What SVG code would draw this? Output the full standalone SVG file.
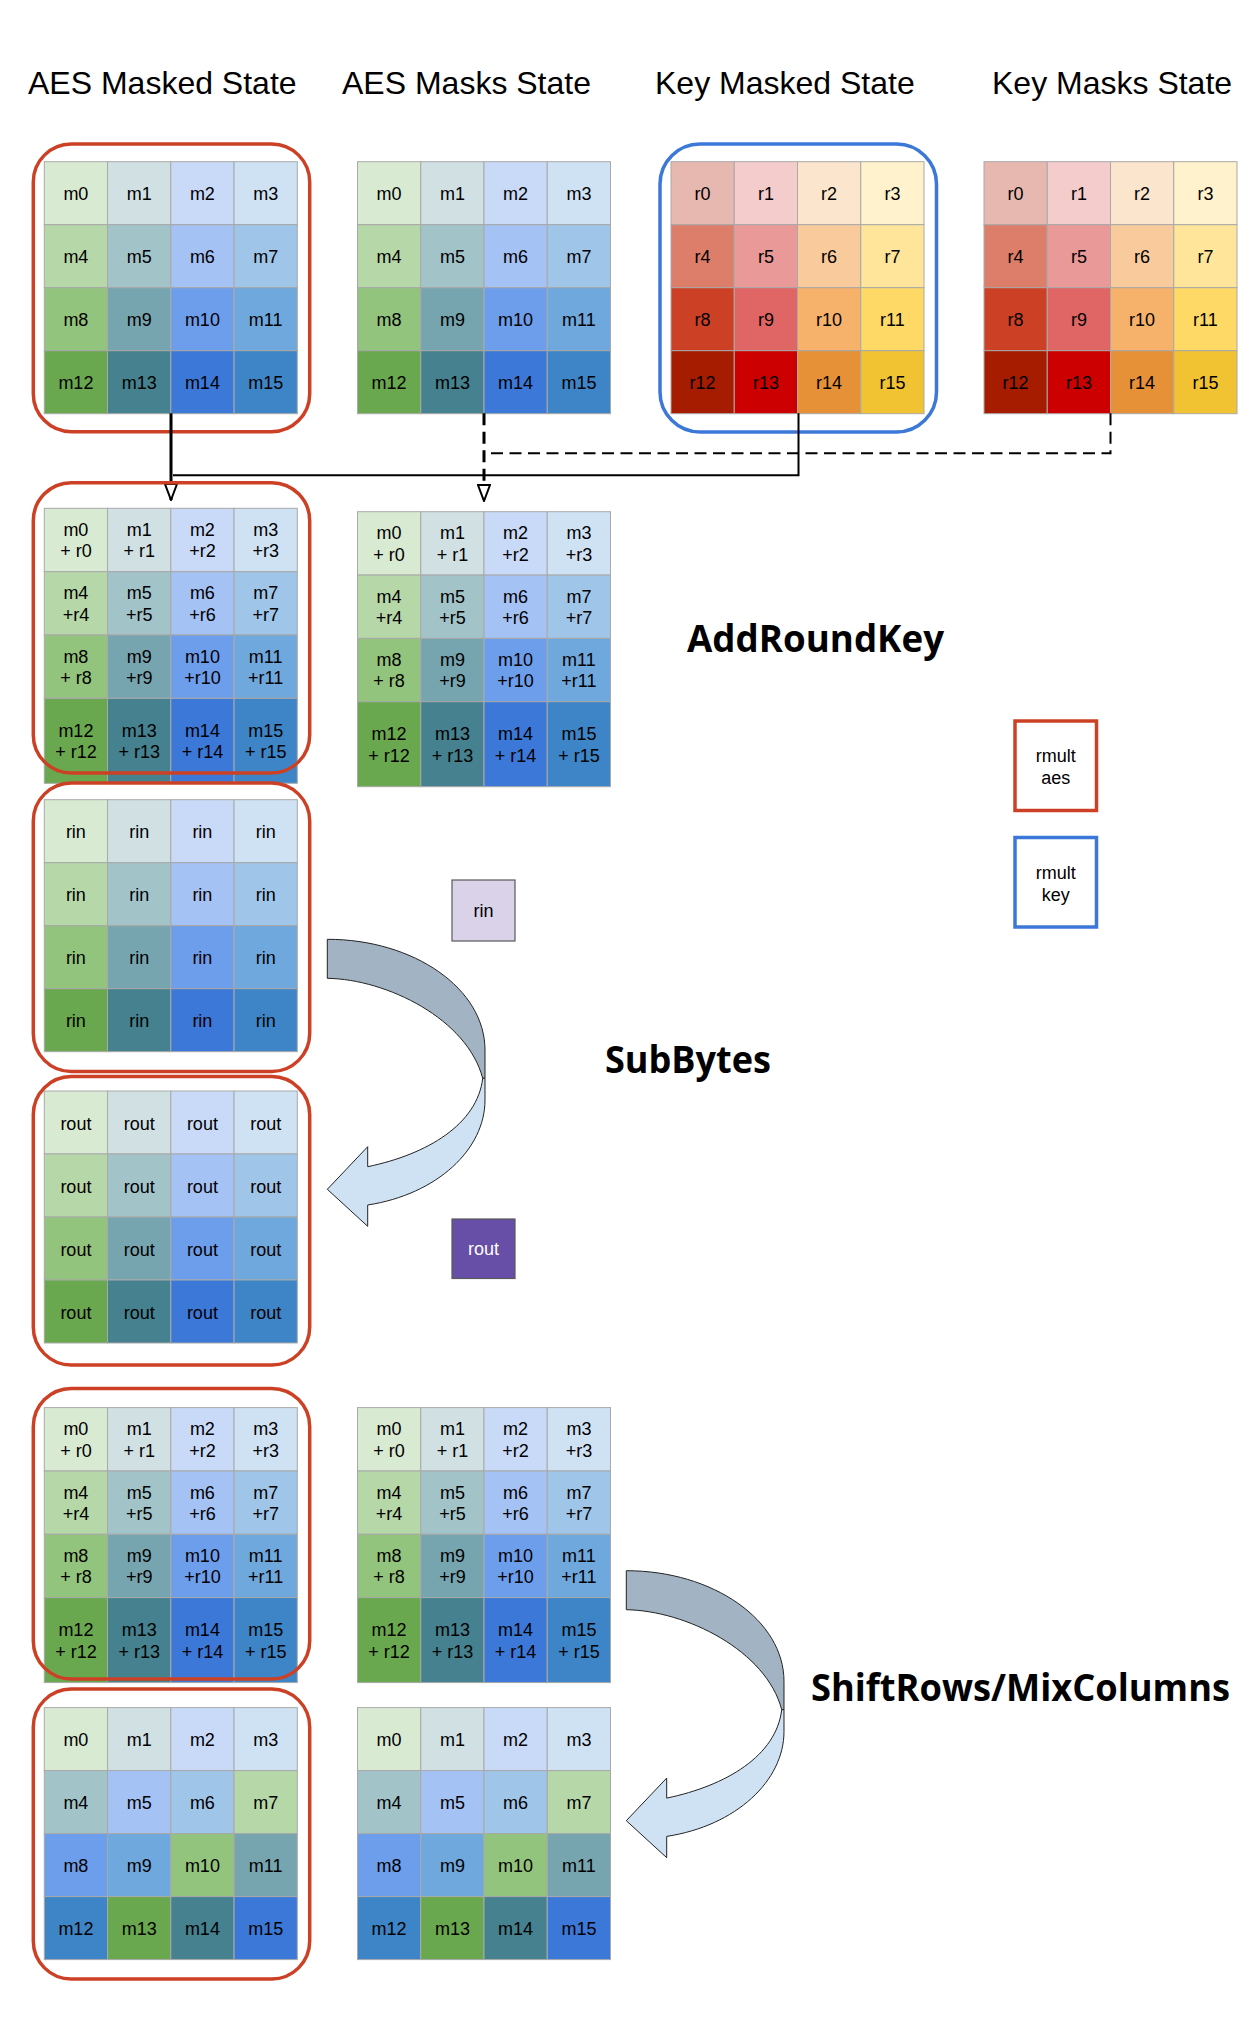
<svg xmlns="http://www.w3.org/2000/svg" width="1247" height="2030" viewBox="0 0 1247 2030">
<defs>
<style>
.a0{fill:#d9ead3}.a1{fill:#d0e0e3}.a2{fill:#c9daf8}.a3{fill:#cfe2f3}
.a4{fill:#b6d7a8}.a5{fill:#a2c4c9}.a6{fill:#a4c2f4}.a7{fill:#9fc5e8}
.a8{fill:#93c47d}.a9{fill:#76a5af}.a10{fill:#6d9eeb}.a11{fill:#6fa8dc}
.a12{fill:#6aa84f}.a13{fill:#45818e}.a14{fill:#3c78d8}.a15{fill:#3d85c6}
.k0{fill:#e6b8af}.k1{fill:#f4cccc}.k2{fill:#fce5cd}.k3{fill:#fff2cc}
.k4{fill:#dd7e6b}.k5{fill:#ea9999}.k6{fill:#f9cb9c}.k7{fill:#ffe599}
.k8{fill:#cc4125}.k9{fill:#e06666}.k10{fill:#f6b26b}.k11{fill:#ffd966}
.k12{fill:#a61c00}.k13{fill:#cc0000}.k14{fill:#e69138}.k15{fill:#f1c232}
.grid rect{stroke:#a9a9a9;stroke-width:1}
.grid text,.box text{font-family:"Liberation Sans",Arial,sans-serif;font-size:18px;text-anchor:middle;fill:#000}
.title{font-family:"Liberation Sans",Arial,sans-serif;font-size:32px;fill:#000}
.op{font-family:"Open Sans","DejaVu Sans",sans-serif;font-weight:700;font-size:37px;fill:#000}
.redbox{fill:none;stroke:#cc4125;stroke-width:3.5}
.bluebox{fill:none;stroke:#3c78d8;stroke-width:3.5}
.legend text{font-family:"Liberation Sans",Arial,sans-serif;font-size:18px;text-anchor:middle;fill:#000}
.conn{fill:none;stroke:#000}
.dash{stroke-dasharray:12 6.5}
.dark{fill:#a2b3c3;stroke:#222;stroke-width:1}
.light{fill:#cfe2f3;stroke:#222;stroke-width:1}
</style>
<marker id="open" viewBox="0 0 18 14" refX="17" refY="7" markerWidth="18" markerHeight="14" markerUnits="userSpaceOnUse" orient="auto">
<path d="M1,1 L17,7 L1,13 Z" fill="#fff" stroke="#000" stroke-width="2" stroke-dasharray="none"/>
</marker>
</defs>
<rect width="1247" height="2030" fill="#fff"/>

<g id="titles">
<text class="title" x="28" y="94">AES Masked State</text>
<text class="title" x="342" y="94">AES Masks State</text>
<text class="title" x="655" y="94">Key Masked State</text>
<text class="title" x="992" y="94">Key Masks State</text>
</g>

<g id="aes-masked-state" class="grid" transform="translate(44.3,161.7)">
<rect class="a0" x="0" y="0" width="63.25" height="63"/><rect class="a1" x="63.25" y="0" width="63.25" height="63"/><rect class="a2" x="126.5" y="0" width="63.25" height="63"/><rect class="a3" x="189.75" y="0" width="63.25" height="63"/>
<rect class="a4" x="0" y="63" width="63.25" height="63"/><rect class="a5" x="63.25" y="63" width="63.25" height="63"/><rect class="a6" x="126.5" y="63" width="63.25" height="63"/><rect class="a7" x="189.75" y="63" width="63.25" height="63"/>
<rect class="a8" x="0" y="126" width="63.25" height="63"/><rect class="a9" x="63.25" y="126" width="63.25" height="63"/><rect class="a10" x="126.5" y="126" width="63.25" height="63"/><rect class="a11" x="189.75" y="126" width="63.25" height="63"/>
<rect class="a12" x="0" y="189" width="63.25" height="63"/><rect class="a13" x="63.25" y="189" width="63.25" height="63"/><rect class="a14" x="126.5" y="189" width="63.25" height="63"/><rect class="a15" x="189.75" y="189" width="63.25" height="63"/>
<text x="31.6" y="38.5">m0</text><text x="94.9" y="38.5">m1</text><text x="158.1" y="38.5">m2</text><text x="221.4" y="38.5">m3</text>
<text x="31.6" y="101.5">m4</text><text x="94.9" y="101.5">m5</text><text x="158.1" y="101.5">m6</text><text x="221.4" y="101.5">m7</text>
<text x="31.6" y="164.5">m8</text><text x="94.9" y="164.5">m9</text><text x="158.1" y="164.5">m10</text><text x="221.4" y="164.5">m11</text>
<text x="31.6" y="227.5">m12</text><text x="94.9" y="227.5">m13</text><text x="158.1" y="227.5">m14</text><text x="221.4" y="227.5">m15</text>
</g>
<rect id="rmult-aes-box-1" class="redbox" x="33.3" y="144" width="276.4" height="287.7" rx="38"/>

<g id="aes-masks-state" class="grid" transform="translate(357.5,161.7)">
<rect class="a0" x="0" y="0" width="63.25" height="63"/><rect class="a1" x="63.25" y="0" width="63.25" height="63"/><rect class="a2" x="126.5" y="0" width="63.25" height="63"/><rect class="a3" x="189.75" y="0" width="63.25" height="63"/>
<rect class="a4" x="0" y="63" width="63.25" height="63"/><rect class="a5" x="63.25" y="63" width="63.25" height="63"/><rect class="a6" x="126.5" y="63" width="63.25" height="63"/><rect class="a7" x="189.75" y="63" width="63.25" height="63"/>
<rect class="a8" x="0" y="126" width="63.25" height="63"/><rect class="a9" x="63.25" y="126" width="63.25" height="63"/><rect class="a10" x="126.5" y="126" width="63.25" height="63"/><rect class="a11" x="189.75" y="126" width="63.25" height="63"/>
<rect class="a12" x="0" y="189" width="63.25" height="63"/><rect class="a13" x="63.25" y="189" width="63.25" height="63"/><rect class="a14" x="126.5" y="189" width="63.25" height="63"/><rect class="a15" x="189.75" y="189" width="63.25" height="63"/>
<text x="31.6" y="38.5">m0</text><text x="94.9" y="38.5">m1</text><text x="158.1" y="38.5">m2</text><text x="221.4" y="38.5">m3</text>
<text x="31.6" y="101.5">m4</text><text x="94.9" y="101.5">m5</text><text x="158.1" y="101.5">m6</text><text x="221.4" y="101.5">m7</text>
<text x="31.6" y="164.5">m8</text><text x="94.9" y="164.5">m9</text><text x="158.1" y="164.5">m10</text><text x="221.4" y="164.5">m11</text>
<text x="31.6" y="227.5">m12</text><text x="94.9" y="227.5">m13</text><text x="158.1" y="227.5">m14</text><text x="221.4" y="227.5">m15</text>
</g>

<g id="key-masked-state" class="grid" transform="translate(671,161.7)">
<rect class="k0" x="0" y="0" width="63.25" height="63"/><rect class="k1" x="63.25" y="0" width="63.25" height="63"/><rect class="k2" x="126.5" y="0" width="63.25" height="63"/><rect class="k3" x="189.75" y="0" width="63.25" height="63"/>
<rect class="k4" x="0" y="63" width="63.25" height="63"/><rect class="k5" x="63.25" y="63" width="63.25" height="63"/><rect class="k6" x="126.5" y="63" width="63.25" height="63"/><rect class="k7" x="189.75" y="63" width="63.25" height="63"/>
<rect class="k8" x="0" y="126" width="63.25" height="63"/><rect class="k9" x="63.25" y="126" width="63.25" height="63"/><rect class="k10" x="126.5" y="126" width="63.25" height="63"/><rect class="k11" x="189.75" y="126" width="63.25" height="63"/>
<rect class="k12" x="0" y="189" width="63.25" height="63"/><rect class="k13" x="63.25" y="189" width="63.25" height="63"/><rect class="k14" x="126.5" y="189" width="63.25" height="63"/><rect class="k15" x="189.75" y="189" width="63.25" height="63"/>
<text x="31.6" y="38.5">r0</text><text x="94.9" y="38.5">r1</text><text x="158.1" y="38.5">r2</text><text x="221.4" y="38.5">r3</text>
<text x="31.6" y="101.5">r4</text><text x="94.9" y="101.5">r5</text><text x="158.1" y="101.5">r6</text><text x="221.4" y="101.5">r7</text>
<text x="31.6" y="164.5">r8</text><text x="94.9" y="164.5">r9</text><text x="158.1" y="164.5">r10</text><text x="221.4" y="164.5">r11</text>
<text x="31.6" y="227.5">r12</text><text x="94.9" y="227.5">r13</text><text x="158.1" y="227.5">r14</text><text x="221.4" y="227.5">r15</text>
</g>
<rect id="rmult-key-box" class="bluebox" x="660" y="144" width="276.5" height="288" rx="40"/>

<g id="key-masks-state" class="grid" transform="translate(984,161.7)">
<rect class="k0" x="0" y="0" width="63.25" height="63"/><rect class="k1" x="63.25" y="0" width="63.25" height="63"/><rect class="k2" x="126.5" y="0" width="63.25" height="63"/><rect class="k3" x="189.75" y="0" width="63.25" height="63"/>
<rect class="k4" x="0" y="63" width="63.25" height="63"/><rect class="k5" x="63.25" y="63" width="63.25" height="63"/><rect class="k6" x="126.5" y="63" width="63.25" height="63"/><rect class="k7" x="189.75" y="63" width="63.25" height="63"/>
<rect class="k8" x="0" y="126" width="63.25" height="63"/><rect class="k9" x="63.25" y="126" width="63.25" height="63"/><rect class="k10" x="126.5" y="126" width="63.25" height="63"/><rect class="k11" x="189.75" y="126" width="63.25" height="63"/>
<rect class="k12" x="0" y="189" width="63.25" height="63"/><rect class="k13" x="63.25" y="189" width="63.25" height="63"/><rect class="k14" x="126.5" y="189" width="63.25" height="63"/><rect class="k15" x="189.75" y="189" width="63.25" height="63"/>
<text x="31.6" y="38.5">r0</text><text x="94.9" y="38.5">r1</text><text x="158.1" y="38.5">r2</text><text x="221.4" y="38.5">r3</text>
<text x="31.6" y="101.5">r4</text><text x="94.9" y="101.5">r5</text><text x="158.1" y="101.5">r6</text><text x="221.4" y="101.5">r7</text>
<text x="31.6" y="164.5">r8</text><text x="94.9" y="164.5">r9</text><text x="158.1" y="164.5">r10</text><text x="221.4" y="164.5">r11</text>
<text x="31.6" y="227.5">r12</text><text x="94.9" y="227.5">r13</text><text x="158.1" y="227.5">r14</text><text x="221.4" y="227.5">r15</text>
</g>

<g id="connectors">
<path class="conn" stroke-width="2" d="M798.5,413.3 V475.3 H173"/>
<path class="conn dash" stroke-width="2" d="M1110.5,413.3 V453.3 H484"/>
<path class="conn" stroke-width="3" d="M171,413.3 V500" marker-end="url(#open)"/>
<path class="conn dash" stroke-width="3" d="M484,413.3 V501" marker-end="url(#open)"/>
</g>

<g id="ark-masked" class="grid" transform="translate(44.3,508.3)">
<rect class="a0" x="0" y="0" width="63.25" height="63.4"/><rect class="a1" x="63.25" y="0" width="63.25" height="63.4"/><rect class="a2" x="126.5" y="0" width="63.25" height="63.4"/><rect class="a3" x="189.75" y="0" width="63.25" height="63.4"/>
<rect class="a4" x="0" y="63.4" width="63.25" height="63.3"/><rect class="a5" x="63.25" y="63.4" width="63.25" height="63.3"/><rect class="a6" x="126.5" y="63.4" width="63.25" height="63.3"/><rect class="a7" x="189.75" y="63.4" width="63.25" height="63.3"/>
<rect class="a8" x="0" y="126.7" width="63.25" height="63.3"/><rect class="a9" x="63.25" y="126.7" width="63.25" height="63.3"/><rect class="a10" x="126.5" y="126.7" width="63.25" height="63.3"/><rect class="a11" x="189.75" y="126.7" width="63.25" height="63.3"/>
<rect class="a12" x="0" y="190" width="63.25" height="85"/><rect class="a13" x="63.25" y="190" width="63.25" height="85"/><rect class="a14" x="126.5" y="190" width="63.25" height="85"/><rect class="a15" x="189.75" y="190" width="63.25" height="85"/>
<text x="31.6" y="27.7">m0<tspan x="31.6" y="49.2">+ r0</tspan></text><text x="94.9" y="27.7">m1<tspan x="94.9" y="49.2">+ r1</tspan></text><text x="158.1" y="27.7">m2<tspan x="158.1" y="49.2">+r2</tspan></text><text x="221.4" y="27.7">m3<tspan x="221.4" y="49.2">+r3</tspan></text>
<text x="31.6" y="91">m4<tspan x="31.6" y="112.5">+r4</tspan></text><text x="94.9" y="91">m5<tspan x="94.9" y="112.5">+r5</tspan></text><text x="158.1" y="91">m6<tspan x="158.1" y="112.5">+r6</tspan></text><text x="221.4" y="91">m7<tspan x="221.4" y="112.5">+r7</tspan></text>
<text x="31.6" y="154.3">m8<tspan x="31.6" y="175.8">+ r8</tspan></text><text x="94.9" y="154.3">m9<tspan x="94.9" y="175.8">+r9</tspan></text><text x="158.1" y="154.3">m10<tspan x="158.1" y="175.8">+r10</tspan></text><text x="221.4" y="154.3">m11<tspan x="221.4" y="175.8">+r11</tspan></text>
<text x="31.6" y="228.5">m12<tspan x="31.6" y="250">+ r12</tspan></text><text x="94.9" y="228.5">m13<tspan x="94.9" y="250">+ r13</tspan></text><text x="158.1" y="228.5">m14<tspan x="158.1" y="250">+ r14</tspan></text><text x="221.4" y="228.5">m15<tspan x="221.4" y="250">+ r15</tspan></text>
</g>
<rect id="rmult-aes-box-2" class="redbox" x="33.3" y="482.7" width="276.4" height="290.3" rx="38"/>

<g id="ark-masks" class="grid" transform="translate(357.5,511.7)">
<rect class="a0" x="0" y="0" width="63.25" height="63.4"/><rect class="a1" x="63.25" y="0" width="63.25" height="63.4"/><rect class="a2" x="126.5" y="0" width="63.25" height="63.4"/><rect class="a3" x="189.75" y="0" width="63.25" height="63.4"/>
<rect class="a4" x="0" y="63.4" width="63.25" height="63.3"/><rect class="a5" x="63.25" y="63.4" width="63.25" height="63.3"/><rect class="a6" x="126.5" y="63.4" width="63.25" height="63.3"/><rect class="a7" x="189.75" y="63.4" width="63.25" height="63.3"/>
<rect class="a8" x="0" y="126.7" width="63.25" height="63.3"/><rect class="a9" x="63.25" y="126.7" width="63.25" height="63.3"/><rect class="a10" x="126.5" y="126.7" width="63.25" height="63.3"/><rect class="a11" x="189.75" y="126.7" width="63.25" height="63.3"/>
<rect class="a12" x="0" y="190" width="63.25" height="85"/><rect class="a13" x="63.25" y="190" width="63.25" height="85"/><rect class="a14" x="126.5" y="190" width="63.25" height="85"/><rect class="a15" x="189.75" y="190" width="63.25" height="85"/>
<text x="31.6" y="27.7">m0<tspan x="31.6" y="49.2">+ r0</tspan></text><text x="94.9" y="27.7">m1<tspan x="94.9" y="49.2">+ r1</tspan></text><text x="158.1" y="27.7">m2<tspan x="158.1" y="49.2">+r2</tspan></text><text x="221.4" y="27.7">m3<tspan x="221.4" y="49.2">+r3</tspan></text>
<text x="31.6" y="91">m4<tspan x="31.6" y="112.5">+r4</tspan></text><text x="94.9" y="91">m5<tspan x="94.9" y="112.5">+r5</tspan></text><text x="158.1" y="91">m6<tspan x="158.1" y="112.5">+r6</tspan></text><text x="221.4" y="91">m7<tspan x="221.4" y="112.5">+r7</tspan></text>
<text x="31.6" y="154.3">m8<tspan x="31.6" y="175.8">+ r8</tspan></text><text x="94.9" y="154.3">m9<tspan x="94.9" y="175.8">+r9</tspan></text><text x="158.1" y="154.3">m10<tspan x="158.1" y="175.8">+r10</tspan></text><text x="221.4" y="154.3">m11<tspan x="221.4" y="175.8">+r11</tspan></text>
<text x="31.6" y="228.5">m12<tspan x="31.6" y="250">+ r12</tspan></text><text x="94.9" y="228.5">m13<tspan x="94.9" y="250">+ r13</tspan></text><text x="158.1" y="228.5">m14<tspan x="158.1" y="250">+ r14</tspan></text><text x="221.4" y="228.5">m15<tspan x="221.4" y="250">+ r15</tspan></text>
</g>

<text id="label-addroundkey" class="op" x="687" y="652" textLength="257" lengthAdjust="spacingAndGlyphs">AddRoundKey</text>

<g id="legend-rmult-aes" class="legend">
<rect x="1015" y="721" width="81.5" height="89.5" fill="#fff" stroke="#cc4125" stroke-width="3.5"/>
<text x="1055.7" y="762">rmult</text><text x="1055.7" y="784">aes</text>
</g>
<g id="legend-rmult-key" class="legend">
<rect x="1015" y="837.5" width="81.5" height="89.5" fill="#fff" stroke="#3c78d8" stroke-width="3.5"/>
<text x="1055.7" y="878.5">rmult</text><text x="1055.7" y="900.5">key</text>
</g>

<g id="sub-in" class="grid" transform="translate(44.3,799.7)">
<rect class="a0" x="0" y="0" width="63.25" height="63"/><rect class="a1" x="63.25" y="0" width="63.25" height="63"/><rect class="a2" x="126.5" y="0" width="63.25" height="63"/><rect class="a3" x="189.75" y="0" width="63.25" height="63"/>
<rect class="a4" x="0" y="63" width="63.25" height="63"/><rect class="a5" x="63.25" y="63" width="63.25" height="63"/><rect class="a6" x="126.5" y="63" width="63.25" height="63"/><rect class="a7" x="189.75" y="63" width="63.25" height="63"/>
<rect class="a8" x="0" y="126" width="63.25" height="63"/><rect class="a9" x="63.25" y="126" width="63.25" height="63"/><rect class="a10" x="126.5" y="126" width="63.25" height="63"/><rect class="a11" x="189.75" y="126" width="63.25" height="63"/>
<rect class="a12" x="0" y="189" width="63.25" height="63"/><rect class="a13" x="63.25" y="189" width="63.25" height="63"/><rect class="a14" x="126.5" y="189" width="63.25" height="63"/><rect class="a15" x="189.75" y="189" width="63.25" height="63"/>
<text x="31.6" y="38.5">rin</text><text x="94.9" y="38.5">rin</text><text x="158.1" y="38.5">rin</text><text x="221.4" y="38.5">rin</text>
<text x="31.6" y="101.5">rin</text><text x="94.9" y="101.5">rin</text><text x="158.1" y="101.5">rin</text><text x="221.4" y="101.5">rin</text>
<text x="31.6" y="164.5">rin</text><text x="94.9" y="164.5">rin</text><text x="158.1" y="164.5">rin</text><text x="221.4" y="164.5">rin</text>
<text x="31.6" y="227.5">rin</text><text x="94.9" y="227.5">rin</text><text x="158.1" y="227.5">rin</text><text x="221.4" y="227.5">rin</text>
</g>
<rect id="rmult-aes-box-3" class="redbox" x="33.3" y="783" width="276.4" height="288.5" rx="38"/>

<g id="rin-box" class="box">
<rect x="452" y="880" width="63" height="61" fill="#d9d2e9" stroke="#595959" stroke-width="1.2"/>
<text x="483.5" y="917">rin</text>
</g>

<g id="subbytes-arrow" transform="translate(327.3,939.3)">
<path class="dark" d="M0,0 C87,0 157.7,49.6 157.7,110.7 L157.7,139 L155.4,139 C140,80 60,40 0,39 Z"/>
<path class="light" d="M155.4,139 L157.7,139 L157.7,160.7 C157.7,210 110,255 40.4,265.7 L40.4,287 L0,250 L40.4,207.4 L40.4,227.4 C100,215 150,185 155.4,139 Z"/>
</g>

<text id="label-subbytes" class="op" x="605" y="1073" textLength="166" lengthAdjust="spacingAndGlyphs">SubBytes</text>

<g id="sub-out" class="grid" transform="translate(44.3,1091)">
<rect class="a0" x="0" y="0" width="63.25" height="63"/><rect class="a1" x="63.25" y="0" width="63.25" height="63"/><rect class="a2" x="126.5" y="0" width="63.25" height="63"/><rect class="a3" x="189.75" y="0" width="63.25" height="63"/>
<rect class="a4" x="0" y="63" width="63.25" height="63"/><rect class="a5" x="63.25" y="63" width="63.25" height="63"/><rect class="a6" x="126.5" y="63" width="63.25" height="63"/><rect class="a7" x="189.75" y="63" width="63.25" height="63"/>
<rect class="a8" x="0" y="126" width="63.25" height="63"/><rect class="a9" x="63.25" y="126" width="63.25" height="63"/><rect class="a10" x="126.5" y="126" width="63.25" height="63"/><rect class="a11" x="189.75" y="126" width="63.25" height="63"/>
<rect class="a12" x="0" y="189" width="63.25" height="63"/><rect class="a13" x="63.25" y="189" width="63.25" height="63"/><rect class="a14" x="126.5" y="189" width="63.25" height="63"/><rect class="a15" x="189.75" y="189" width="63.25" height="63"/>
<text x="31.6" y="38.5">rout</text><text x="94.9" y="38.5">rout</text><text x="158.1" y="38.5">rout</text><text x="221.4" y="38.5">rout</text>
<text x="31.6" y="101.5">rout</text><text x="94.9" y="101.5">rout</text><text x="158.1" y="101.5">rout</text><text x="221.4" y="101.5">rout</text>
<text x="31.6" y="164.5">rout</text><text x="94.9" y="164.5">rout</text><text x="158.1" y="164.5">rout</text><text x="221.4" y="164.5">rout</text>
<text x="31.6" y="227.5">rout</text><text x="94.9" y="227.5">rout</text><text x="158.1" y="227.5">rout</text><text x="221.4" y="227.5">rout</text>
</g>
<rect id="rmult-aes-box-4" class="redbox" x="33.3" y="1076.6" width="276.4" height="288.4" rx="38"/>

<g id="rout-box" class="box">
<rect x="452" y="1219" width="63" height="59.5" fill="#674ea7" stroke="#595959" stroke-width="1.2"/>
<text x="483.5" y="1255" style="fill:#fff">rout</text>
</g>

<g id="mix-in-masked" class="grid" transform="translate(44.3,1407.6)">
<rect class="a0" x="0" y="0" width="63.25" height="63.4"/><rect class="a1" x="63.25" y="0" width="63.25" height="63.4"/><rect class="a2" x="126.5" y="0" width="63.25" height="63.4"/><rect class="a3" x="189.75" y="0" width="63.25" height="63.4"/>
<rect class="a4" x="0" y="63.4" width="63.25" height="63.3"/><rect class="a5" x="63.25" y="63.4" width="63.25" height="63.3"/><rect class="a6" x="126.5" y="63.4" width="63.25" height="63.3"/><rect class="a7" x="189.75" y="63.4" width="63.25" height="63.3"/>
<rect class="a8" x="0" y="126.7" width="63.25" height="63.3"/><rect class="a9" x="63.25" y="126.7" width="63.25" height="63.3"/><rect class="a10" x="126.5" y="126.7" width="63.25" height="63.3"/><rect class="a11" x="189.75" y="126.7" width="63.25" height="63.3"/>
<rect class="a12" x="0" y="190" width="63.25" height="85"/><rect class="a13" x="63.25" y="190" width="63.25" height="85"/><rect class="a14" x="126.5" y="190" width="63.25" height="85"/><rect class="a15" x="189.75" y="190" width="63.25" height="85"/>
<text x="31.6" y="27.7">m0<tspan x="31.6" y="49.2">+ r0</tspan></text><text x="94.9" y="27.7">m1<tspan x="94.9" y="49.2">+ r1</tspan></text><text x="158.1" y="27.7">m2<tspan x="158.1" y="49.2">+r2</tspan></text><text x="221.4" y="27.7">m3<tspan x="221.4" y="49.2">+r3</tspan></text>
<text x="31.6" y="91">m4<tspan x="31.6" y="112.5">+r4</tspan></text><text x="94.9" y="91">m5<tspan x="94.9" y="112.5">+r5</tspan></text><text x="158.1" y="91">m6<tspan x="158.1" y="112.5">+r6</tspan></text><text x="221.4" y="91">m7<tspan x="221.4" y="112.5">+r7</tspan></text>
<text x="31.6" y="154.3">m8<tspan x="31.6" y="175.8">+ r8</tspan></text><text x="94.9" y="154.3">m9<tspan x="94.9" y="175.8">+r9</tspan></text><text x="158.1" y="154.3">m10<tspan x="158.1" y="175.8">+r10</tspan></text><text x="221.4" y="154.3">m11<tspan x="221.4" y="175.8">+r11</tspan></text>
<text x="31.6" y="228.5">m12<tspan x="31.6" y="250">+ r12</tspan></text><text x="94.9" y="228.5">m13<tspan x="94.9" y="250">+ r13</tspan></text><text x="158.1" y="228.5">m14<tspan x="158.1" y="250">+ r14</tspan></text><text x="221.4" y="228.5">m15<tspan x="221.4" y="250">+ r15</tspan></text>
</g>
<rect id="rmult-aes-box-5" class="redbox" x="33.3" y="1388.4" width="276.4" height="290.6" rx="38"/>

<g id="mix-in-masks" class="grid" transform="translate(357.5,1407.6)">
<rect class="a0" x="0" y="0" width="63.25" height="63.4"/><rect class="a1" x="63.25" y="0" width="63.25" height="63.4"/><rect class="a2" x="126.5" y="0" width="63.25" height="63.4"/><rect class="a3" x="189.75" y="0" width="63.25" height="63.4"/>
<rect class="a4" x="0" y="63.4" width="63.25" height="63.3"/><rect class="a5" x="63.25" y="63.4" width="63.25" height="63.3"/><rect class="a6" x="126.5" y="63.4" width="63.25" height="63.3"/><rect class="a7" x="189.75" y="63.4" width="63.25" height="63.3"/>
<rect class="a8" x="0" y="126.7" width="63.25" height="63.3"/><rect class="a9" x="63.25" y="126.7" width="63.25" height="63.3"/><rect class="a10" x="126.5" y="126.7" width="63.25" height="63.3"/><rect class="a11" x="189.75" y="126.7" width="63.25" height="63.3"/>
<rect class="a12" x="0" y="190" width="63.25" height="85"/><rect class="a13" x="63.25" y="190" width="63.25" height="85"/><rect class="a14" x="126.5" y="190" width="63.25" height="85"/><rect class="a15" x="189.75" y="190" width="63.25" height="85"/>
<text x="31.6" y="27.7">m0<tspan x="31.6" y="49.2">+ r0</tspan></text><text x="94.9" y="27.7">m1<tspan x="94.9" y="49.2">+ r1</tspan></text><text x="158.1" y="27.7">m2<tspan x="158.1" y="49.2">+r2</tspan></text><text x="221.4" y="27.7">m3<tspan x="221.4" y="49.2">+r3</tspan></text>
<text x="31.6" y="91">m4<tspan x="31.6" y="112.5">+r4</tspan></text><text x="94.9" y="91">m5<tspan x="94.9" y="112.5">+r5</tspan></text><text x="158.1" y="91">m6<tspan x="158.1" y="112.5">+r6</tspan></text><text x="221.4" y="91">m7<tspan x="221.4" y="112.5">+r7</tspan></text>
<text x="31.6" y="154.3">m8<tspan x="31.6" y="175.8">+ r8</tspan></text><text x="94.9" y="154.3">m9<tspan x="94.9" y="175.8">+r9</tspan></text><text x="158.1" y="154.3">m10<tspan x="158.1" y="175.8">+r10</tspan></text><text x="221.4" y="154.3">m11<tspan x="221.4" y="175.8">+r11</tspan></text>
<text x="31.6" y="228.5">m12<tspan x="31.6" y="250">+ r12</tspan></text><text x="94.9" y="228.5">m13<tspan x="94.9" y="250">+ r13</tspan></text><text x="158.1" y="228.5">m14<tspan x="158.1" y="250">+ r14</tspan></text><text x="221.4" y="228.5">m15<tspan x="221.4" y="250">+ r15</tspan></text>
</g>

<g id="mix-arrow" transform="translate(626.3,1570.7)">
<path class="dark" d="M0,0 C87,0 157.7,49.6 157.7,110.7 L157.7,139 L155.4,139 C140,80 60,40 0,39 Z"/>
<path class="light" d="M155.4,139 L157.7,139 L157.7,160.7 C157.7,210 110,255 40.4,265.7 L40.4,287 L0,250 L40.4,207.4 L40.4,227.4 C100,215 150,185 155.4,139 Z"/>
</g>

<text id="label-shiftrows" class="op" x="811" y="1701" textLength="419" lengthAdjust="spacingAndGlyphs">ShiftRows/MixColumns</text>

<g id="mix-out-masked" class="grid" transform="translate(44.3,1707.6)">
<rect class="a0" x="0" y="0" width="63.25" height="63"/><rect class="a1" x="63.25" y="0" width="63.25" height="63"/><rect class="a2" x="126.5" y="0" width="63.25" height="63"/><rect class="a3" x="189.75" y="0" width="63.25" height="63"/>
<rect class="a5" x="0" y="63" width="63.25" height="63"/><rect class="a6" x="63.25" y="63" width="63.25" height="63"/><rect class="a7" x="126.5" y="63" width="63.25" height="63"/><rect class="a4" x="189.75" y="63" width="63.25" height="63"/>
<rect class="a10" x="0" y="126" width="63.25" height="63"/><rect class="a11" x="63.25" y="126" width="63.25" height="63"/><rect class="a8" x="126.5" y="126" width="63.25" height="63"/><rect class="a9" x="189.75" y="126" width="63.25" height="63"/>
<rect class="a15" x="0" y="189" width="63.25" height="63"/><rect class="a12" x="63.25" y="189" width="63.25" height="63"/><rect class="a13" x="126.5" y="189" width="63.25" height="63"/><rect class="a14" x="189.75" y="189" width="63.25" height="63"/>
<text x="31.6" y="38.5">m0</text><text x="94.9" y="38.5">m1</text><text x="158.1" y="38.5">m2</text><text x="221.4" y="38.5">m3</text>
<text x="31.6" y="101.5">m4</text><text x="94.9" y="101.5">m5</text><text x="158.1" y="101.5">m6</text><text x="221.4" y="101.5">m7</text>
<text x="31.6" y="164.5">m8</text><text x="94.9" y="164.5">m9</text><text x="158.1" y="164.5">m10</text><text x="221.4" y="164.5">m11</text>
<text x="31.6" y="227.5">m12</text><text x="94.9" y="227.5">m13</text><text x="158.1" y="227.5">m14</text><text x="221.4" y="227.5">m15</text>
</g>
<rect id="rmult-aes-box-6" class="redbox" x="33.3" y="1689" width="276.4" height="290" rx="38"/>

<g id="mix-out-masks" class="grid" transform="translate(357.5,1707.6)">
<rect class="a0" x="0" y="0" width="63.25" height="63"/><rect class="a1" x="63.25" y="0" width="63.25" height="63"/><rect class="a2" x="126.5" y="0" width="63.25" height="63"/><rect class="a3" x="189.75" y="0" width="63.25" height="63"/>
<rect class="a5" x="0" y="63" width="63.25" height="63"/><rect class="a6" x="63.25" y="63" width="63.25" height="63"/><rect class="a7" x="126.5" y="63" width="63.25" height="63"/><rect class="a4" x="189.75" y="63" width="63.25" height="63"/>
<rect class="a10" x="0" y="126" width="63.25" height="63"/><rect class="a11" x="63.25" y="126" width="63.25" height="63"/><rect class="a8" x="126.5" y="126" width="63.25" height="63"/><rect class="a9" x="189.75" y="126" width="63.25" height="63"/>
<rect class="a15" x="0" y="189" width="63.25" height="63"/><rect class="a12" x="63.25" y="189" width="63.25" height="63"/><rect class="a13" x="126.5" y="189" width="63.25" height="63"/><rect class="a14" x="189.75" y="189" width="63.25" height="63"/>
<text x="31.6" y="38.5">m0</text><text x="94.9" y="38.5">m1</text><text x="158.1" y="38.5">m2</text><text x="221.4" y="38.5">m3</text>
<text x="31.6" y="101.5">m4</text><text x="94.9" y="101.5">m5</text><text x="158.1" y="101.5">m6</text><text x="221.4" y="101.5">m7</text>
<text x="31.6" y="164.5">m8</text><text x="94.9" y="164.5">m9</text><text x="158.1" y="164.5">m10</text><text x="221.4" y="164.5">m11</text>
<text x="31.6" y="227.5">m12</text><text x="94.9" y="227.5">m13</text><text x="158.1" y="227.5">m14</text><text x="221.4" y="227.5">m15</text>
</g>
</svg>
